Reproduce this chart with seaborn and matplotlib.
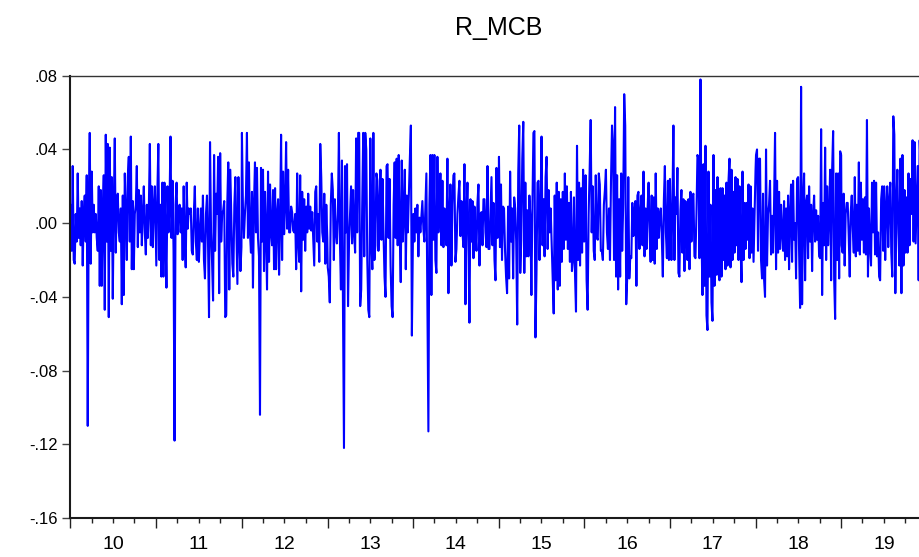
import numpy as np
import pandas as pd
import matplotlib
matplotlib.use("Agg")
import matplotlib.pyplot as plt
import matplotlib.dates as mdates
from matplotlib.ticker import FuncFormatter, NullFormatter
import seaborn as sns

# Estilo: fondo blanco sin rejilla, como la salida de EViews
sns.set_theme(style="white")
plt.rcParams['font.family'] = ['Liberation Sans', 'DejaVu Sans']

# Rendimientos diarios R_MCB (en milésimas), un bloque por año
years = [2010, 2011, 2012, 2013, 2014, 2015, 2016, 2017, 2018, 2019]

r_2010 = [10, -15, 31, -20, -22, 5, -10, 27, -8, 8,
          -12, 12, -23, 5, 15, -10, 26, -110, 10, 49,
          -22, 28, -5, 10, -5, 5, -8, -15, 20, -34,
          18, -34, 5, 26, -47, 48, -10, 43, -51, 41,
          -15, 25, -41, 10, 46, -16, 12, 16, -5, -10,
          8, -44, 15, -39, 27, 5, -20, 25, 36, -10,
          47, -25, 12, -25, 5, 10, 31, -13, 18, -5,
          15, -12, 5, 20, -5, -17, 10, -8, 8, 43,
          -12, 20, -13, 10, 20, -8]

r_2011 = [-23, 15, 43, -20, 10, -29, 22, -29, 22, -5,
          -35, 20, -5, 10, 47, -8, 23, -15, -118, 10,
          22, -6, 5, 10, -5, 8, -20, 20, -10, -24,
          22, -3, 8, 5, 8, -15, -17, 5, 20, -10,
          -20, 8, -21,
          -5, 8, -10, 15, -20, -30, 5, 15, -10, -51,
          44, -5, -21, -42, 37, -15, 16, 5, 36, -38,
          38, -10, 5, 7, 12, -51, -50, 10, 33, -36,
          29, 3, -22, -29, 10, 25, -5, -33, 25, -10,
          -26, -13]

r_2012 = [49, 9, -8, 5, 15, 49, -8, 33, -5, -16,
          17, -35, 10, 33, -5, 30, -8, -18, -104, 30,
          -10, 29, -26, 17, -5, -36, 28, -21, 21, -5,
          -12, 18, -25, 19, -25, 5, 13, -28, 0, 48,
          -20, 28, -6, 10, 44, -3, 29, -5, -5, 9,
          6, -4, -5, 5, -25, 27, -10, -21, 26, -37,
          17, -9, 13, -15, 9, -5, 16, -3, 9, -4,
          6, -8, -23, 17, 20, -10, 5, -21, 43, 25,
          -5, -10, 16, -22, 10, -8]

r_2013 = [-24, -29, -43, 10, 27, 18, -20, 13, -5, -11,
          5, 49, -10, -36, 34, -45, -122, 31, -5, 32,
          -45,
          -10, 5, 20, -11, 18, -5, -16, 46, -5, 49,
          49, -45, -36, 10, 49, -18, 49, 40, -20, -47,
          -51, 46, -10, -25, 49, -20, -12, 27, 23, -15,
          10, 29, -9, 24, -5, -29, -40, 31, 32, -8,
          24, -23, -45, -51, 10, 33, -8, 35, -12, 37,
          -5, -32, 34, -10, 5, 29, -25, 15, -5, 16,
          35, 53, -61, -10]

r_2014 = [5, -10, 8, -5, 10, -18, 3, -5, 4, 12,
          -3, -10, 8, 27, -40, -113, 10, 37, -39, 37,
          -9, 37, -20, -27, 36, -5, 10, 27, -12, 23,
          -13, 8, -5, -12, 35, -38, 5, 21, -23, 10,
          26, 27, -21, -14, 5, 15, 23, -7, 12, -5,
          -13, 32, -44, 5, 22, -10, -54, 13, -10, 12,
          -19, 9, -5, -15, 11, 21, -23, 5, 6, -12,
          13, 13, -5, -13, 31, -14,
          -14, 5, 25, -12, 11, -20, -31, 30, -8, 5]

r_2015 = [36, -13, 21, -20, 9, 8, -15, -29, -38, 9,
          -30, 28, -10, 8, -30, 14, 8, -10, -55, 27,
          53, -27, -9, 35, 55, -27, 22, -18, 7, -18,
          15, 3, -39, 9, 49, 50, -62, -28, 22, 23,
          -20, 5, 47, -12, 13, -18, 25, 36, -14, 18,
          -5, 8, -12, -30, -49, 15, -31, 22, -36, 17,
          -34, 13, -21, 17, -14, 27, -9, 20, -14, 11,
          -21, 17, -26, -20, 14, -27, -48, 42, -20, 22,
          -23, 19, -16, 29, -10]

r_2016 = [-9, 26, -31, -47, 5, 29, 56, -5, 20, -15,
          -20, 26, -8, -9, 27, 21, -15, -15, -20, 10,
          18, 29, -5, -14, 8, -20, 23, 53, 42, -20,
          63, -29, 26, -36, 13, -29, 27, -15, 10, 70,
          53, -44, -29, 25, -30,
          -18, -19, 11, -7, 5, 12, -34, 15, 17, -14,
          5, 15, -12, 28, -18, 8, -14, 8, 22, -5,
          -21, 15, -20, 14, -22, 27, -14, 8, -8, 5,
          8, -8, -29, 12, 31, -5, -19, 23, -20, 24]

r_2017 = [8, -20, 10, 53, -20, 14, 5, 30, -27, -29,
          7, 18, -16, 13, -26, 12, -5, -20, 13, -25,
          17, -10, 15, 16, -18, -19, 5, 37, 35, -19,
          78, -5, -39, 32, -34, 42, -50, -58, 28, -29,
          10, -43, -53, 37, -34, 18, -28, 25, -27, -31,
          19, -29, 19, -20, 15, -25, 22, -23, 23, 35,
          -24, 29, -20, 17, -16, 25, -12, 24, -20, 20,
          -12, -32, 28, -20, 11, -14, 11, -9, 21, -19,
          20, -16, 8, -21, 5, 29]

r_2018 = [37, 40, -15, 35,
          35, -20, -30, 16, -30, -40, 40, -23, 5, 10,
          23, -17, 4, -16, 10, 49, -25, 23, -16, 17,
          -14, 10, -5, -15, 12, -20, 8, -18, 15, -25,
          5, 21, -21, 23, -9, 0, -30, 24, 25, -15,
          -46, 74, -44, 10, 27, -31, 11, 15, -19, 20,
          -10, 10, -26, 5, 15, -10, 7, -9, 4, -18,
          -19, 51, -39, 11, -12, 41, -20, 20, -12, 5,
          29, -31, 29, 50, -30, -52, 27, -20, 27, -30,
          39, 37]

r_2019 = [-12, -16, 16, -23, 5, 11, 11, -7, -29, 6,
          15, -3, -16, 25, -18, 10, -15, 33, -17, 22,
          -9, 13, -16, 14, -17, 56, -29, 8, -12, -23,
          22, -5, 23, -17, 22, -18, -5, -29, -31, 13,
          20, -15, 20, -20, 9, 20, -13, 12, 22, -16,
          -29, 58, 48, -38, 10, 29, -5, -23, 35, -38,
          37, -23, 18, -16, 14, -16, 27, -12, 24, 5,
          45, -10, 44, -11, 10, 31, -31, 45,
          30, -12, 15, -20, 8, -15, 12]

y_ticks = [-0.16, -0.12, -0.08, -0.04, 0.00, 0.04, 0.08]

# Construir la serie con fechas repartidas dentro de cada año
bloques = []
for anio, vals in zip(years, [r_2010, r_2011, r_2012, r_2013, r_2014,
                              r_2015, r_2016, r_2017, r_2018, r_2019]):
    fechas = pd.date_range(f"{anio}-01-02", f"{anio}-12-31", periods=len(vals))
    bloques.append(pd.DataFrame({"fecha": fechas, "r_mcb": np.array(vals) / 1000}))
df = pd.concat(bloques, ignore_index=True)

# Figura (el eje derecho queda fuera del lienzo, como en la imagen original)
fig = plt.figure(figsize=(9.2, 5.57), dpi=100)
ax = fig.add_axes([0.0766, 0.070, 0.931, 0.794])
sns.lineplot(data=df, x="fecha", y="r_mcb", color="#0000ff", lw=1.5, ax=ax)

ax.set_xlim(pd.Timestamp(f"{years[0]}-01-01"), pd.Timestamp(f"{years[-1] + 1}-01-01"))
ax.set_ylim(y_ticks[0], y_ticks[-1])
ax.set_yticks(y_ticks)
ax.yaxis.set_major_formatter(FuncFormatter(lambda v, pos: f"{v:.2f}".replace("0.", ".", 1)))

# Eje X: marcas largas al inicio de año, cortas por trimestre, etiqueta a mitad de año
ax.xaxis.set_major_locator(mdates.YearLocator())
ax.xaxis.set_major_formatter(NullFormatter())
ax.xaxis.set_minor_locator(mdates.MonthLocator(bymonth=[4, 7, 10]))
ax.xaxis.set_minor_formatter(FuncFormatter(
    lambda x, pos: mdates.num2date(x).strftime("%y") if mdates.num2date(x).month == 7 else ""))

ax.tick_params(axis="x", which="major", length=7, width=1, direction="out",
               color="#222222", bottom=True)
ax.tick_params(axis="x", which="minor", length=3.6, width=1, direction="out",
               color="#222222", bottom=True, labelsize=14, pad=9.5, labelcolor="black")
ax.tick_params(axis="y", which="major", length=6, width=1, direction="out",
               color="#444444", left=True, labelsize=12, pad=3, labelcolor="black")

ax.set_xlabel("")
ax.set_ylabel("")
ax.set_title("R_MCB", fontsize=18, pad=29, color="black")

for lado in ["left", "bottom"]:
    ax.spines[lado].set_color("#1a1a1a")
    ax.spines[lado].set_linewidth(1.5)
ax.spines["top"].set_color("#333333")
ax.spines["top"].set_linewidth(1.0)
ax.spines["right"].set_visible(False)

fig.savefig("out.png", dpi=100)
